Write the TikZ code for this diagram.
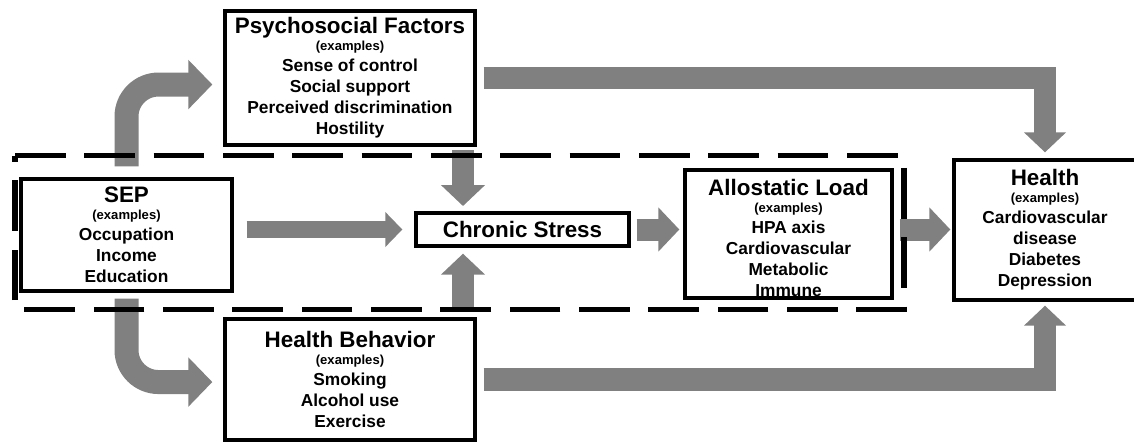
\documentclass[tikz,border=0pt]{standalone}
\usepackage{fontspec}
\setmainfont{Liberation Sans}
\usetikzlibrary{arrows.meta}

\newcommand{\ttl}{\fontsize{16.8}{19}\selectfont}
\newcommand{\exm}{\fontsize{9.8}{11}\selectfont}

\begin{document}
\begin{tikzpicture}[x=0.75pt,y=-0.75pt]
        \tikzstyle{every node}=[font=\bfseries\fontsize{13}{15.75}\selectfont]
        \tikzstyle{box}=[draw,line width=2.5pt,align=center,inner sep=0pt]
        \tikzstyle{bent}=[draw=gray,line width=18pt,rounded corners=24pt,-{Triangle[length=18pt,width=36pt]}]
        \tikzstyle{band}=[draw=gray,line width=17pt,-{Triangle[length=15pt,width=30.75pt]}]
        \tikzstyle{mid}=[draw=gray,line width=16.5pt,-{Triangle[length=15.75pt,width=32.25pt]}]
        \tikzstyle{slim}=[draw=gray,line width=12.75pt,-{Triangle[length=12.75pt,width=25.5pt]}]
        \tikzstyle{group}=[draw,line width=4.25pt,dash pattern=on 38pt off 14pt]

        \useasboundingbox (0,0) rectangle (1134,444);
        \clip (0,0) rectangle (1134,444);

        \node[box,minimum width=187.5pt,minimum height=100.5pt] at (350,78) (psych)
            {{\ttl Psychosocial Factors}\\[-3pt]{\exm (examples)}\\Sense of control\\Social support\\Perceived discrimination\\Hostility};
        \node[box,minimum width=158.25pt,minimum height=84pt] at (126.5,235) (sep)
            {{\ttl SEP}\\[-3pt]{\exm (examples)}\\Occupation\\Income\\Education};
        \node[box,minimum width=187.5pt,minimum height=90.75pt] at (350,379.5) (behav)
            {{\ttl Health Behavior}\\[-3pt]{\exm (examples)}\\Smoking\\Alcohol use\\Exercise};
        \node[box,minimum width=159.75pt,minimum height=24.75pt] at (522.5,229.5) (stress)
            {\ttl Chronic Stress};
        \node[box,minimum width=155.25pt,minimum height=96pt] at (788.5,234) (load)
            {{\ttl\rule{0pt}{18pt}Allostatic Load}\\[-3pt]{\exm (examples)}\\HPA axis\\Cardiovascular\\Metabolic\\Immune};
        \node[box,minimum width=136.5pt,minimum height=105pt] at (1045,230) (health)
            {{\ttl Health}\\[-3pt]{\exm (examples)}\\Cardiovascular\\disease\\Diabetes\\Depression};

        \coordinate (stress_top) at ([xshift=36.5pt]stress.north west);
        \coordinate (stress_bot) at ([xshift=36.5pt]stress.south west);

        %SEP branches up and down
        \draw[bent,shorten <=8.25pt,shorten >=8.25pt] (sep.north) |- ([yshift=-4.9pt]psych.west);
        \draw[bent,shorten <=4.5pt,shorten >=8.25pt] (sep.south) |- ([yshift=-1.9pt]behav.west);

        %long bands to health
        \draw[band,shorten <=5.25pt,shorten >=4.5pt] (psych.east) -| (health.north);
        \draw[band,shorten <=5.25pt,shorten >=3pt] (behav.east) -| (health.south);

        \draw[slim,shorten <=9.75pt,shorten >=9pt] (sep.east |- stress.west) -- (stress.west);
        \draw[mid,shorten <=2.5pt,shorten >=4pt] (psych.south -| stress_top) -- (stress_top);
        \draw[mid,shorten <=4pt,shorten >=4.5pt] (behav.north -| stress_bot) -- (stress_bot);
        \draw[mid,shorten <=4.5pt,shorten >=3pt] (stress.east) -- (stress.east -| load.west);
        \draw[mid,shorten <=4.5pt,shorten >=1.5pt] (load.east |- stress.east) -- (health.west |- stress.east);

        %dashed frame round the stress pathway
        \draw[group] (15,155.5) -- (904,155.5) -- (904,309.5) -- (15,309.5) -- cycle;
\end{tikzpicture}
\end{document}
